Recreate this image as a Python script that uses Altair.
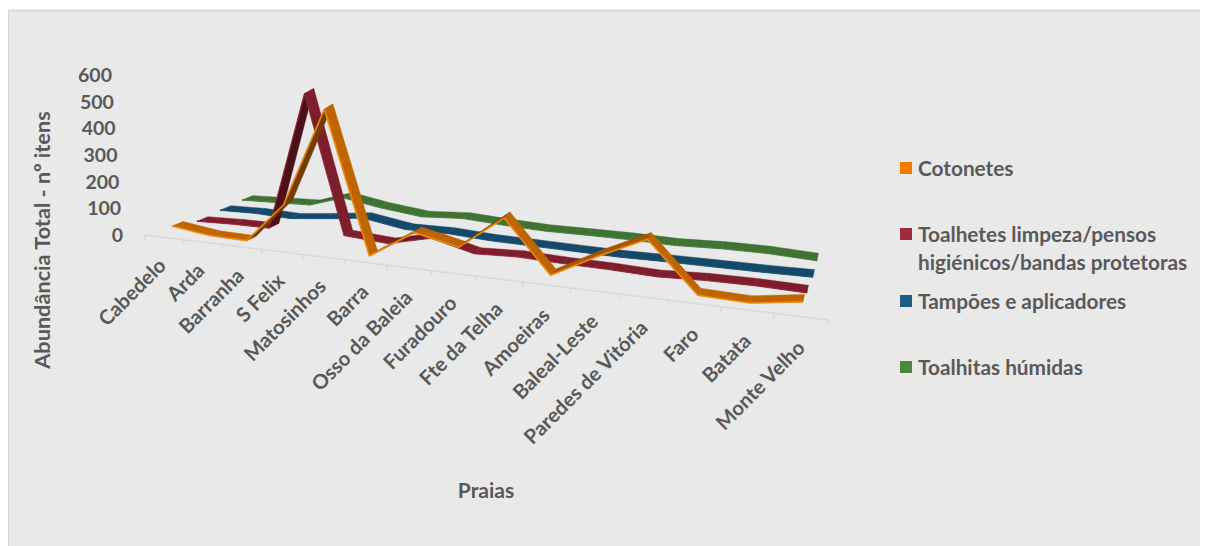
import altair as alt
import math
import pandas as pd

praias = ["Cabedelo", "Arda", "Barranha", "S Felix", "Matosinhos", "Barra", "Osso da Baleia", "Furadouro",
          "Fte da Telha", "Amoeiras", "Baleal-Leste", "Paredes de Vitória", "Faro", "Batata", "Monte Velho"]
cotonetes = [20, 2, 0, 151, 528, 0, 108, 74, 205, 12, 106, 192, 6, 1, 30]
toalhetes = [5, 10, 11, 530, 16, 6, 45, 6, 13, 8, 6, 0, 8, 10, 6]
tampoes = [12, 15, 10, 23, 41, 16, 18, 9, 6, 3, 0, 2, 2, 2, 4]
toalhitas = [15, 19, 22, 61, 37, 19, 28, 18, 11, 11, 10, 5, 10, 9, 0]
y_ticks = [0, 100, 200, 300, 400, 500, 600]

series = [
    ("Toalhitas húmidas", toalhitas, 3, "#3f7233", "#4a7f3d", "#4e8542"),
    ("Tampões e aplicadores", tampoes, 2, "#14496a", "#1a5275", "#1f5c85"),
    ("Toalhetes limpeza/pensos", toalhetes, 1, "#7e1d2b", "#8e2433", "#9e2a3b"),
    ("Cotonetes", cotonetes, 0, "#bf6500", "#f08a10", "#f07d00"),
]
legend_rows = [
    ("Cotonetes", "#f07d00", True, 168),
    ("Toalhetes limpeza/pensos", "#9e2a3b", True, 234),
    ("higiénicos/bandas protetoras", "", False, 262),
    ("Tampões e aplicadores", "#1f5c85", True, 301),
    ("Toalhitas húmidas", "#4e8542", True, 367),
]

# --- oblique 3D projection of Excel's line chart (image pixels) ---
K = 0.267
C = 0.01192
START = {0: 172, 1: 197, 2: 220, 3: 242}
END = {0: 803, 1: 807, 2: 813, 3: 817}


def g(i):
    return (i / (1 - C * i)) / (14 / (1 - 14 * C))


def axis_y(x):
    return 235 + 0.1245 * (x - 145)


def tick_x(i):
    u = i / (1 - 0.01168 * i)
    return 145 + 37.56 * u


def front(i, v, d):
    t = g(i)
    x = START[d] + (END[d] - START[d]) * t - 6 * math.exp(-(((i - 3.5) / 1.5) ** 2))
    off = 7 + d * (12 + (d * 0.5 + 3.5) * t * (1 if d else 0))
    return x, axis_y(x) - off - v * K


def depth(t):
    return 11 - 9.5 * t, -4.5 - 3 * t


def shade(color, f):
    r, gg, b = int(color[1:3], 16), int(color[3:5], 16), int(color[5:7], 16)
    return "#%02x%02x%02x" % (int(r * f), int(gg * f), int(b * f))


rows = []
sid = 0


def poly(pts, color):
    global sid
    for n, (x, y) in enumerate(pts):
        rows.append({"seg": sid, "n": n, "x": x, "y": y, "c": color})
    sid += 1


for name, vals, d, base, edge, _ in series:
    for i in range(14):
        x0, y0 = front(i, vals[i], d)
        x1, y1 = front(i + 1, vals[i + 1], d)
        dv0, dv1 = depth(g(i)), depth(g(i + 1))
        slope = (y1 - y0) / (x1 - x0)
        f = 0.6 if slope < -0.6 else (0.87 if slope < -0.08 else 1)
        poly([(x0, y0), (x1, y1), (x1 + dv1[0], y1 + dv1[1]), (x0 + dv0[0], y0 + dv0[1])], shade(base, f))
    for i in range(14):
        x0, y0 = front(i, vals[i], d)
        x1, y1 = front(i + 1, vals[i + 1], d)
        w = 0.6 if d == 0 else 0.35
        L = ((x1 - x0) ** 2 + (y1 - y0) ** 2) ** 0.5
        nx, ny = -(y1 - y0) / L * w, (x1 - x0) / L * w
        poly([(x0 - nx, y0 - ny), (x1 - nx, y1 - ny), (x1 + nx, y1 + ny), (x0 + nx, y0 + ny)], edge)

X = alt.Scale(domain=[8, 1200], range=[0, 1192])
Y = alt.Scale(domain=[8, 546], range=[0, 538])
x_enc = alt.X("x:Q", scale=X, axis=None)
y_enc = alt.Y("y:Q", scale=Y, axis=None)

bg = alt.Chart(pd.DataFrame({"x": [8], "x2": [1202], "y": [10.5], "y2": [550]})).mark_rect(
    fill="#e9e9e9", stroke="#d9d9d9", strokeWidth=2, clip=True
).encode(x=x_enc, x2="x2:Q", y=y_enc, y2="y2:Q")

ticks = []
for i in range(16):
    tx = tick_x(i)
    ticks.append({"x": tx, "x2": tx, "y": axis_y(tx), "y2": axis_y(tx) + 5})
axis_df = pd.DataFrame(ticks)
tick_marks = alt.Chart(axis_df).mark_rule(color="#d9d9d9", strokeWidth=1.3).encode(x=x_enc, y=y_enc, y2="y2:Q")
axis_line = alt.Chart(axis_df).mark_line(color="#d9d9d9", strokeWidth=1.5).encode(x=x_enc, y=y_enc)

ribbons = alt.Chart(pd.DataFrame(rows)).mark_line(strokeWidth=0.4, interpolate="linear-closed").encode(
    x=x_enc, y=y_enc, order="n:Q", detail="seg:N",
    fill=alt.Fill("c:N", scale=None), stroke=alt.Stroke("c:N", scale=None),
)

FONT = "Lato"
TXT = "#595959"
ytxt = pd.DataFrame({"t": [str(v) for v in y_ticks],
                     "x": [123 - 11 * v / 600 for v in y_ticks],
                     "y": [236 - v * 0.2667 for v in y_ticks]})
y_labels = alt.Chart(ytxt).mark_text(font=FONT, fontSize=19.5, fontWeight="bold", color=TXT, align="right",
                                     baseline="middle").encode(x=x_enc, y=y_enc, text="t:N")

xtxt = []
for i, p in enumerate(praias):
    mx = (tick_x(i) + tick_x(i + 1)) / 2 + 3 + i * 0.15
    xtxt.append({"t": p, "x": mx - 4, "y": axis_y(mx) + 25 + i * 0.2})
x_labels = alt.Chart(pd.DataFrame(xtxt)).mark_text(font=FONT, fontSize=20.3, fontWeight="bold", color=TXT,
                                                   align="right", baseline="middle", angle=315).encode(
    x=x_enc, y=y_enc, text="t:N")

y_title = alt.Chart(pd.DataFrame({"t": ["Abundância Total - nº itens"], "x": [43], "y": [240]})).mark_text(
    font=FONT, fontSize=21.7, fontWeight="bold", color=TXT, angle=270, baseline="middle", align="center"
).encode(x=x_enc, y=y_enc, text="t:N")
x_title = alt.Chart(pd.DataFrame({"t": ["Praias"], "x": [486], "y": [492]})).mark_text(
    font=FONT, fontSize=21, fontWeight="bold", color=TXT, baseline="middle", align="center"
).encode(x=x_enc, y=y_enc, text="t:N")

leg = pd.DataFrame([{"t": t, "x": 918, "y": y + 1.5} for t, c, s, y in legend_rows])
leg_text = alt.Chart(leg).mark_text(font=FONT, fontSize=20.8, fontWeight="bold", color=TXT, align="left",
                                    baseline="middle").encode(x=x_enc, y=y_enc, text="t:N")
sq = pd.DataFrame([{"x": 900, "x2": 912, "y": y - 6, "y2": y + 6, "c": c} for t, c, s, y in legend_rows if s])
leg_sq = alt.Chart(sq).mark_rect().encode(x=x_enc, x2="x2:Q", y=y_enc, y2="y2:Q",
                                          fill=alt.Fill("c:N", scale=None))

chart = alt.layer(bg, axis_line, tick_marks, ribbons, y_labels, x_labels, y_title, x_title, leg_sq, leg_text).properties(
    width=1192, height=538, padding=0, background="white", autosize=alt.AutoSizeParams(type="none")
).configure_view(stroke=None)
chart.save("out.html", embed_options={"renderer": "svg", "actions": False})
